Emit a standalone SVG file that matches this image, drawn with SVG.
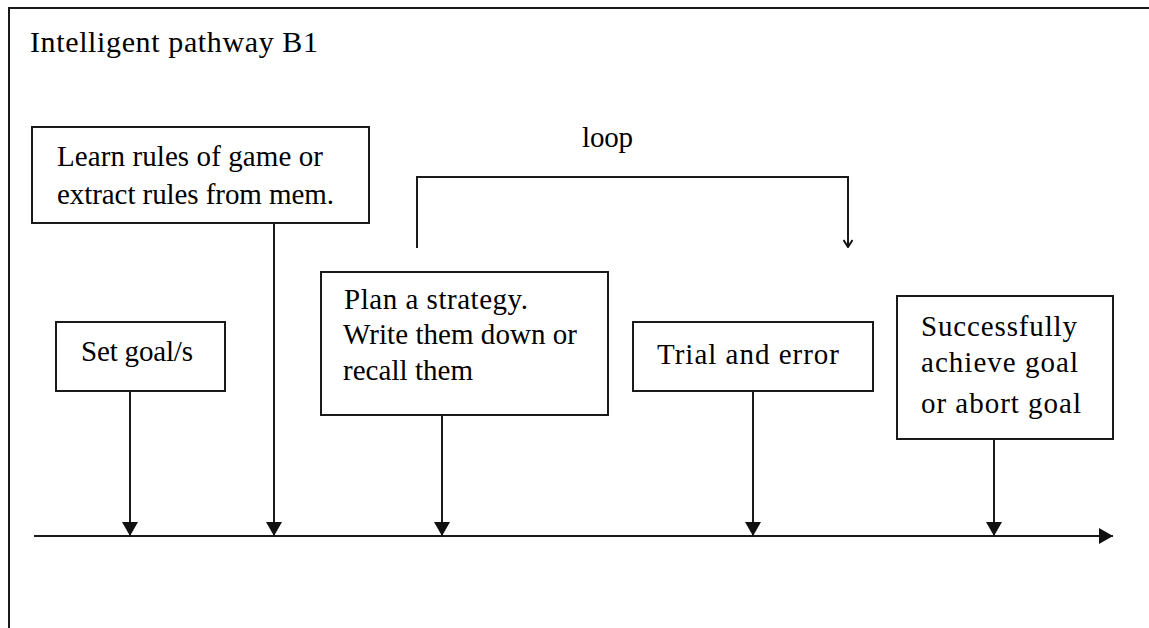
<svg xmlns="http://www.w3.org/2000/svg" width="1149" height="628" viewBox="0 0 1149 628">
  <style>
    .box { fill: #fff; stroke: #1a1a1a; stroke-width: 2; }
    .ln { fill: none; stroke: #1a1a1a; stroke-width: 2; }
    text { font-family: 'Liberation Serif', 'DejaVu Serif', serif; font-size: 29px; fill: #000; }
    .title { font-size: 30px; }
  </style>
  <defs>
    <marker id="tri" viewBox="0 0 14 16" refX="14" refY="8" markerWidth="14" markerHeight="16" markerUnits="userSpaceOnUse" orient="auto">
      <path d="M0,0 L14,8 L0,16 Z" fill="#111"/>
    </marker>
    <marker id="vee" viewBox="0 0 10 10" refX="9" refY="5" markerWidth="10" markerHeight="10" markerUnits="userSpaceOnUse" orient="auto">
      <path d="M2,0.5 L9,5 L2,9.5" fill="none" stroke="#111" stroke-width="2"/>
    </marker>
  </defs>
  <rect x="0" y="0" width="1149" height="628" fill="#fff"/>
  <path class="ln" d="M9,628 V8 H1149"/>
  <text class="title" x="30" y="52" textLength="288">Intelligent pathway B1</text>

  <g id="connectors">
    <line class="ln" x1="34" y1="536" x2="1113" y2="536" marker-end="url(#tri)"/>
    <line class="ln" x1="130" y1="392" x2="130" y2="536" marker-end="url(#tri)"/>
    <line class="ln" x1="274" y1="224" x2="274" y2="536" marker-end="url(#tri)"/>
    <line class="ln" x1="442" y1="416" x2="442" y2="536" marker-end="url(#tri)"/>
    <line class="ln" x1="753" y1="392" x2="753" y2="536" marker-end="url(#tri)"/>
    <line class="ln" x1="994" y1="440" x2="994" y2="536" marker-end="url(#tri)"/>
    <path class="ln" d="M417,248 V177 H848 V247" marker-end="url(#vee)"/>
    <text x="582" y="147" textLength="51">loop</text>
  </g>

  <g id="node-learn">
    <rect class="box" x="32" y="127" width="337" height="96"/>
    <text x="57" y="166" textLength="266">Learn rules of game or</text>
    <text x="57" y="204" textLength="277">extract rules from mem.</text>
  </g>

  <g id="node-setgoal">
    <rect class="box" x="56" y="322" width="169" height="69"/>
    <text x="81" y="361" textLength="112">Set goal/s</text>
  </g>

  <g id="node-plan">
    <rect class="box" x="321" y="272" width="287" height="143"/>
    <text x="344" y="309" textLength="184">Plan a strategy.</text>
    <text x="343" y="344" textLength="234">Write them down or</text>
    <text x="343" y="380" textLength="130">recall them</text>
  </g>

  <g id="node-trial">
    <rect class="box" x="633" y="322" width="240" height="69"/>
    <text x="657" y="364" textLength="182">Trial and error</text>
  </g>

  <g id="node-success">
    <rect class="box" x="897" y="296" width="216" height="143"/>
    <text x="921" y="336" textLength="156">Successfully</text>
    <text x="921" y="372" textLength="157">achieve goal</text>
    <text x="921" y="413" textLength="160">or abort goal</text>
  </g>
</svg>
